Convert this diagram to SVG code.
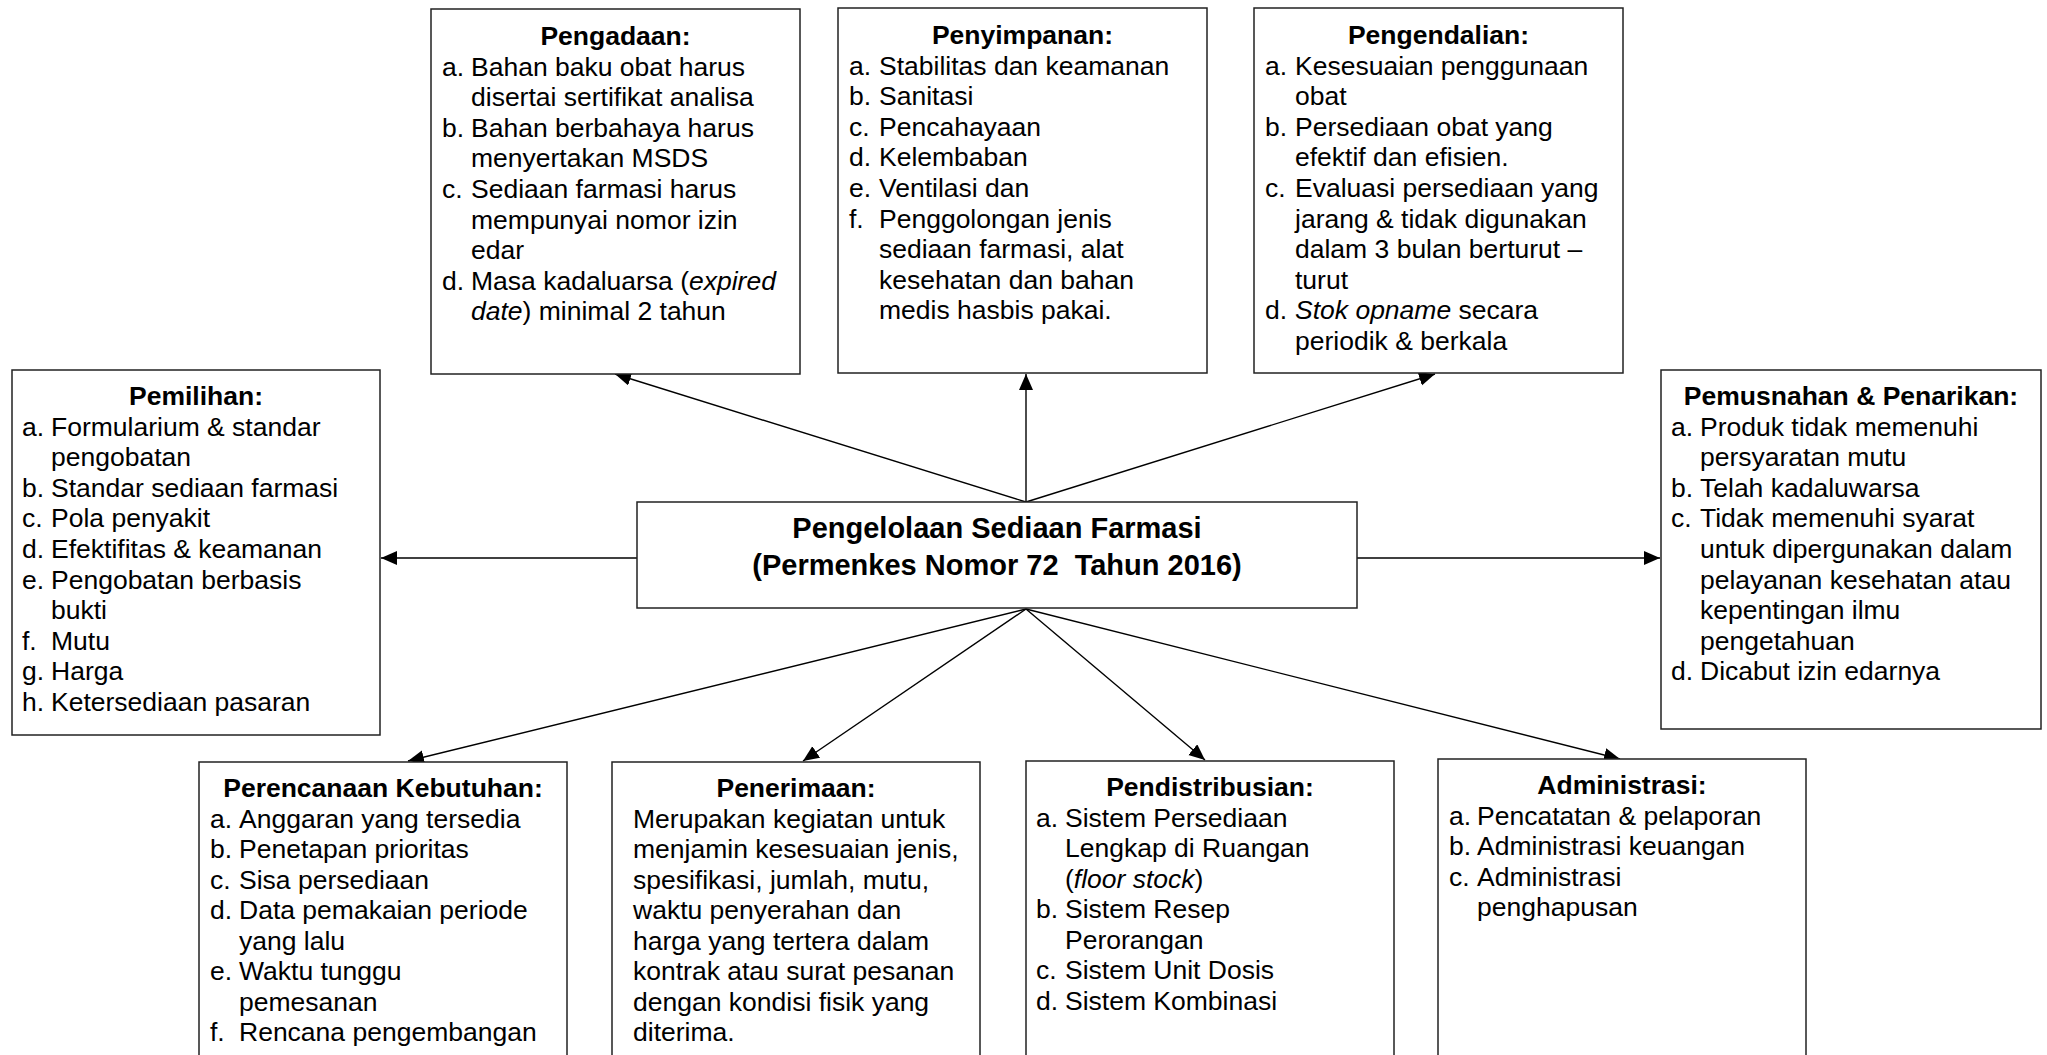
<svg xmlns="http://www.w3.org/2000/svg" width="2047" height="1055" viewBox="0 0 2047 1055">
<style>
  .box { fill: #ffffff; stroke: #222222; stroke-width: 1.5; }
  .t { font-family: "Liberation Sans", Arial, sans-serif; font-size: 26.5px; fill: #000000; }
  .h { font-weight: bold; text-anchor: middle; }
  .c { font-family: "Liberation Sans", Arial, sans-serif; font-size: 29px; font-weight: bold; text-anchor: middle; fill: #000000; white-space: pre; }
  .i { font-style: italic; }
  .ln { stroke: #000000; stroke-width: 1.4; fill: none; marker-end: url(#ah); }
</style>
<defs>
  <marker id="ah" markerUnits="userSpaceOnUse" markerWidth="17" markerHeight="15" refX="16" refY="7" orient="auto">
    <path d="M0,0 L16,7 L0,14 z" fill="#000000"/>
  </marker>
</defs>
<rect x="0" y="0" width="2047" height="1055" fill="#ffffff"/>

<g id="connectors">
  <line class="ln" x1="1026" y1="502" x2="615" y2="374"/>
  <line class="ln" x1="1026" y1="502" x2="1026" y2="374"/>
  <line class="ln" x1="1026" y1="502" x2="1435" y2="374"/>
  <line class="ln" x1="637" y1="558" x2="381" y2="558"/>
  <line class="ln" x1="1357" y1="558" x2="1660" y2="558"/>
  <line class="ln" x1="1026" y1="609" x2="408" y2="761"/>
  <line class="ln" x1="1026" y1="609" x2="803" y2="761"/>
  <line class="ln" x1="1026" y1="609" x2="1205" y2="760"/>
  <line class="ln" x1="1026" y1="609" x2="1620" y2="759"/>
</g>

<g id="center">
  <rect class="box" x="637" y="502" width="720" height="106"/>
  <text class="c" x="997" y="538">Pengelolaan Sediaan Farmasi</text>
  <text class="c" x="997" y="575">(Permenkes Nomor 72  Tahun 2016)</text>
</g>

<g id="pengadaan" class="t">
  <rect class="box" x="431" y="9" width="369" height="365"/>
  <text class="t h" x="615.5" y="45">Pengadaan:</text>
  <text class="t" x="442" y="75.5">a.</text><text class="t" x="471" y="75.5">Bahan baku obat harus</text>
  <text class="t" x="471" y="106.1">disertai sertifikat analisa</text>
  <text class="t" x="442" y="136.7">b.</text><text class="t" x="471" y="136.7">Bahan berbahaya harus</text>
  <text class="t" x="471" y="167.3">menyertakan MSDS</text>
  <text class="t" x="442" y="197.9">c.</text><text class="t" x="471" y="197.9">Sediaan farmasi harus</text>
  <text class="t" x="471" y="228.5">mempunyai nomor izin</text>
  <text class="t" x="471" y="259.1">edar</text>
  <text class="t" x="442" y="289.7">d.</text><text class="t" x="471" y="289.7">Masa kadaluarsa (<tspan class="i">expired</tspan></text>
  <text class="t" x="471" y="320.3"><tspan class="i">date</tspan>) minimal 2 tahun</text>
</g>

<g id="penyimpanan">
  <rect class="box" x="838" y="8" width="369" height="365"/>
  <text class="t h" x="1022.5" y="44">Penyimpanan:</text>
  <text class="t" x="849" y="74.5">a.</text><text class="t" x="879" y="74.5">Stabilitas dan keamanan</text>
  <text class="t" x="849" y="105.1">b.</text><text class="t" x="879" y="105.1">Sanitasi</text>
  <text class="t" x="849" y="135.7">c.</text><text class="t" x="879" y="135.7">Pencahayaan</text>
  <text class="t" x="849" y="166.3">d.</text><text class="t" x="879" y="166.3">Kelembaban</text>
  <text class="t" x="849" y="196.9">e.</text><text class="t" x="879" y="196.9">Ventilasi dan</text>
  <text class="t" x="849" y="227.5">f.</text><text class="t" x="879" y="227.5">Penggolongan jenis</text>
  <text class="t" x="879" y="258.1">sediaan farmasi, alat</text>
  <text class="t" x="879" y="288.7">kesehatan dan bahan</text>
  <text class="t" x="879" y="319.3">medis hasbis pakai.</text>
</g>

<g id="pengendalian">
  <rect class="box" x="1254" y="8" width="369" height="365"/>
  <text class="t h" x="1438.5" y="44">Pengendalian:</text>
  <text class="t" x="1265" y="74.5">a.</text><text class="t" x="1295" y="74.5">Kesesuaian penggunaan</text>
  <text class="t" x="1295" y="105.1">obat</text>
  <text class="t" x="1265" y="135.7">b.</text><text class="t" x="1295" y="135.7">Persediaan obat yang</text>
  <text class="t" x="1295" y="166.3">efektif dan efisien.</text>
  <text class="t" x="1265" y="196.9">c.</text><text class="t" x="1295" y="196.9">Evaluasi persediaan yang</text>
  <text class="t" x="1295" y="227.5">jarang &amp; tidak digunakan</text>
  <text class="t" x="1295" y="258.1">dalam 3 bulan berturut –</text>
  <text class="t" x="1295" y="288.7">turut</text>
  <text class="t" x="1265" y="319.3">d.</text><text class="t" x="1295" y="319.3"><tspan class="i">Stok opname</tspan> secara</text>
  <text class="t" x="1295" y="349.9">periodik &amp; berkala</text>
</g>

<g id="pemilihan">
  <rect class="box" x="12" y="370" width="368" height="365"/>
  <text class="t h" x="196" y="405">Pemilihan:</text>
  <text class="t" x="22" y="435.5">a.</text><text class="t" x="51" y="435.5">Formularium &amp; standar</text>
  <text class="t" x="51" y="466.1">pengobatan</text>
  <text class="t" x="22" y="496.7">b.</text><text class="t" x="51" y="496.7">Standar sediaan farmasi</text>
  <text class="t" x="22" y="527.3">c.</text><text class="t" x="51" y="527.3">Pola penyakit</text>
  <text class="t" x="22" y="557.9">d.</text><text class="t" x="51" y="557.9">Efektifitas &amp; keamanan</text>
  <text class="t" x="22" y="588.5">e.</text><text class="t" x="51" y="588.5">Pengobatan berbasis</text>
  <text class="t" x="51" y="619.1">bukti</text>
  <text class="t" x="22" y="649.7">f.</text><text class="t" x="51" y="649.7">Mutu</text>
  <text class="t" x="22" y="680.3">g.</text><text class="t" x="51" y="680.3">Harga</text>
  <text class="t" x="22" y="710.9">h.</text><text class="t" x="51" y="710.9">Ketersediaan pasaran</text>
</g>

<g id="pemusnahan">
  <rect class="box" x="1661" y="370" width="380" height="359"/>
  <text class="t h" x="1851" y="405">Pemusnahan &amp; Penarikan:</text>
  <text class="t" x="1671" y="435.5">a.</text><text class="t" x="1700" y="435.5">Produk tidak memenuhi</text>
  <text class="t" x="1700" y="466.1">persyaratan mutu</text>
  <text class="t" x="1671" y="496.7">b.</text><text class="t" x="1700" y="496.7">Telah kadaluwarsa</text>
  <text class="t" x="1671" y="527.3">c.</text><text class="t" x="1700" y="527.3">Tidak memenuhi syarat</text>
  <text class="t" x="1700" y="557.9">untuk dipergunakan dalam</text>
  <text class="t" x="1700" y="588.5">pelayanan kesehatan atau</text>
  <text class="t" x="1700" y="619.1">kepentingan ilmu</text>
  <text class="t" x="1700" y="649.7">pengetahuan</text>
  <text class="t" x="1671" y="680.3">d.</text><text class="t" x="1700" y="680.3">Dicabut izin edarnya</text>
</g>

<g id="perencanaan">
  <rect class="box" x="199" y="762" width="368" height="310"/>
  <text class="t h" x="383" y="797">Perencanaan Kebutuhan:</text>
  <text class="t" x="210" y="827.5">a.</text><text class="t" x="239" y="827.5">Anggaran yang tersedia</text>
  <text class="t" x="210" y="858">b.</text><text class="t" x="239" y="858">Penetapan prioritas</text>
  <text class="t" x="210" y="888.5">c.</text><text class="t" x="239" y="888.5">Sisa persediaan</text>
  <text class="t" x="210" y="919">d.</text><text class="t" x="239" y="919">Data pemakaian periode</text>
  <text class="t" x="239" y="949.5">yang lalu</text>
  <text class="t" x="210" y="980">e.</text><text class="t" x="239" y="980">Waktu tunggu</text>
  <text class="t" x="239" y="1010.5">pemesanan</text>
  <text class="t" x="210" y="1041">f.</text><text class="t" x="239" y="1041">Rencana pengembangan</text>
</g>

<g id="penerimaan">
  <rect class="box" x="612" y="762" width="368" height="310"/>
  <text class="t h" x="796" y="797">Penerimaan:</text>
  <text class="t" x="633" y="827.5">Merupakan kegiatan untuk</text>
  <text class="t" x="633" y="858">menjamin kesesuaian jenis,</text>
  <text class="t" x="633" y="888.5">spesifikasi, jumlah, mutu,</text>
  <text class="t" x="633" y="919">waktu penyerahan dan</text>
  <text class="t" x="633" y="949.5">harga yang tertera dalam</text>
  <text class="t" x="633" y="980">kontrak atau surat pesanan</text>
  <text class="t" x="633" y="1010.5">dengan kondisi fisik yang</text>
  <text class="t" x="633" y="1041">diterima.</text>
</g>

<g id="pendistribusian">
  <rect class="box" x="1026" y="761" width="368" height="310"/>
  <text class="t h" x="1210" y="796">Pendistribusian:</text>
  <text class="t" x="1036" y="826.5">a.</text><text class="t" x="1065" y="826.5">Sistem Persediaan</text>
  <text class="t" x="1065" y="857">Lengkap di Ruangan</text>
  <text class="t" x="1065" y="887.5">(<tspan class="i">floor stock</tspan>)</text>
  <text class="t" x="1036" y="918">b.</text><text class="t" x="1065" y="918">Sistem Resep</text>
  <text class="t" x="1065" y="948.5">Perorangan</text>
  <text class="t" x="1036" y="979">c.</text><text class="t" x="1065" y="979">Sistem Unit Dosis</text>
  <text class="t" x="1036" y="1009.5">d.</text><text class="t" x="1065" y="1009.5">Sistem Kombinasi</text>
</g>

<g id="administrasi">
  <rect class="box" x="1438" y="759" width="368" height="312"/>
  <text class="t h" x="1622" y="794">Administrasi:</text>
  <text class="t" x="1449" y="824.5">a.</text><text class="t" x="1477" y="824.5">Pencatatan &amp; pelaporan</text>
  <text class="t" x="1449" y="855">b.</text><text class="t" x="1477" y="855">Administrasi keuangan</text>
  <text class="t" x="1449" y="885.5">c.</text><text class="t" x="1477" y="885.5">Administrasi</text>
  <text class="t" x="1477" y="916">penghapusan</text>
</g>
</svg>
